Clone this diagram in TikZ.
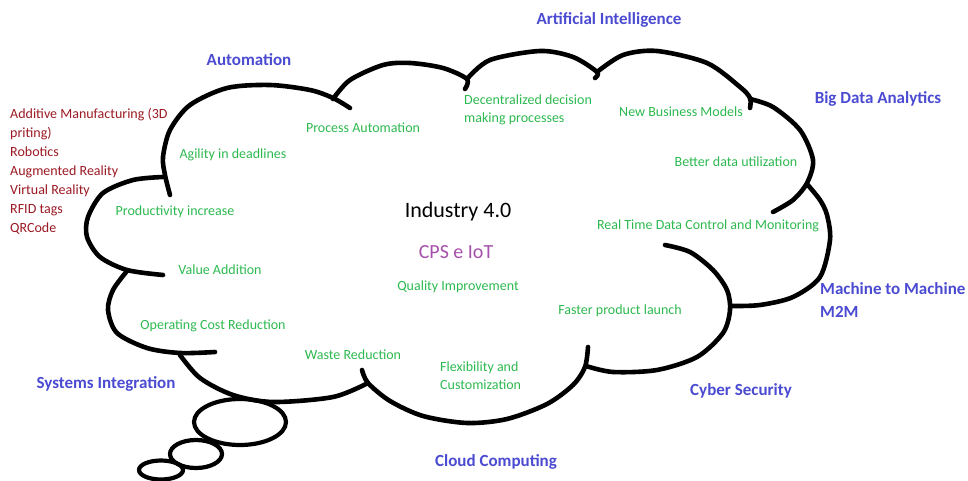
\documentclass[tikz,border=0pt]{standalone}
\usepackage{fontspec}
\setmainfont{Carlito}
\definecolor{lblue}{RGB}{75,75,210}
\definecolor{lgreen}{RGB}{45,185,80}
\definecolor{lred}{RGB}{155,25,35}
\definecolor{lpurple}{RGB}{165,80,170}
\begin{document}
\begin{tikzpicture}[x=1pt,y=-1pt,
  lobe/.style={line width=4.6pt, line cap=round, line join=round},
  bubble/.style={line width=4.2pt},
  tech/.style={text=lblue, font=\fontsize{17}{23}\selectfont\bfseries, inner sep=0pt},
  gain/.style={text=lgreen, font=\fontsize{14}{18}\selectfont, inner sep=0pt},
  enab/.style={text=lred, font=\fontsize{14}{19}\selectfont, inner sep=0pt}]
\useasboundingbox (0,0) rectangle (968,481);
% cloud lobes
\draw[lobe] plot[smooth] coordinates {(170,195) (165,175) (163,157) (170,130) (190,105) (227,88) (270,85) (310,90) (333,98) (350,108)};
\draw[lobe] plot[smooth] coordinates {(333,99) (350,80) (383,65) (410,63) (443,68) (467,79) (465,89)};
\draw[lobe] plot[smooth] coordinates {(467,79) (490,60) (540,51) (573,57) (597,72) (595,78)};
\draw[lobe] plot[smooth] coordinates {(597,72) (623,55) (657,51) (707,63) (740,87) (750,98) (750,108)};
\draw[lobe] plot[smooth] coordinates {(750,99) (773,107) (800,130) (813,160) (807,183) (793,200) (773,212)};
\draw[lobe] plot[smooth] coordinates {(807,184) (820,200) (827,215) (830,240) (820,277) (793,297) (760,305) (731,306)};
\draw[lobe] plot[smooth] coordinates {(665,245) (690,252) (713,270) (727,290) (730,310) (723,333) (697,357) (657,370) (613,372) (586,366)};
\draw[lobe] plot[smooth] coordinates {(588,347) (585,367) (573,385) (547,404) (507,419) (467,423) (423,416) (390,401) (368,383) (362,370)};
\draw[lobe] plot[smooth] coordinates {(368,383) (333,397) (273,402) (233,395) (200,378) (180,355)};
\draw[lobe] plot[smooth] coordinates {(127,271) (113,290) (108,310) (117,333) (147,348) (180,353) (215,352)};
\draw[lobe] plot[smooth] coordinates {(163,177) (133,180) (103,193) (88,217) (87,237) (100,257) (127,270) (163,275)};
% thought bubbles
\draw[bubble] (240,422) ellipse [x radius=46pt, y radius=23pt];
\draw[bubble] (196,454) ellipse [x radius=26pt, y radius=14pt];
\draw[bubble] (161,470) ellipse [x radius=22pt, y radius=9.5pt];
% centre
\node[inner sep=0pt, font=\fontsize{22}{26}\selectfont] (ind) at (458,212) {Industry 4.0};
\node[inner sep=0pt, text=lpurple, font=\fontsize{20}{24}\selectfont] (cps) at (456,252) {CPS e IoT};
% technologies (blue)
\node[tech] (ai) at (609,20) {Artificial Intelligence};
\node[tech] (aut) at (249,60) {Automation};
\node[tech] (bda) at (878,99) {Big Data Analytics};
\node[tech, anchor=west, align=left] (m2m) at (820,300) {Machine to Machine\\M2M};
\node[tech] (cyb) at (741,391) {Cyber Security};
\node[tech] (cc) at (496,462) {Cloud Computing};
\node[tech] (si) at (106,384) {Systems Integration};
% enablers (red)
\node[enab, anchor=west, align=left] (enl) at (10,171) {Additive Manufacturing (3D\\priting)\\Robotics\\Augmented Reality\\Virtual Reality\\RFID tags\\QRCode};
% gains (green)
\node[gain] (pa) at (363,128) {Process Automation};
\node[gain] (ag) at (233,155) {Agility in deadlines};
\node[gain, anchor=west, align=left] (dd) at (464,110) {Decentralized decision\\making processes};
\node[gain] (nbm) at (681,112) {New Business Models};
\node[gain] (bdu) at (736,162) {Better data utilization};
\node[gain] (rt) at (708,226) {Real Time Data Control and Monitoring};
\node[gain] (pi) at (175,212) {Productivity increase};
\node[gain] (va) at (220,270) {Value Addition};
\node[gain] (ocr) at (213,326) {Operating Cost Reduction};
\node[gain] (wr) at (353,355) {Waste Reduction};
\node[gain, anchor=west, align=left] (fc) at (440,376) {Flexibility and\\Customization};
\node[gain] (fpl) at (620,311) {Faster product launch};
\node[gain] (qi) at (458,287) {Quality Improvement};
\end{tikzpicture}
\end{document}
